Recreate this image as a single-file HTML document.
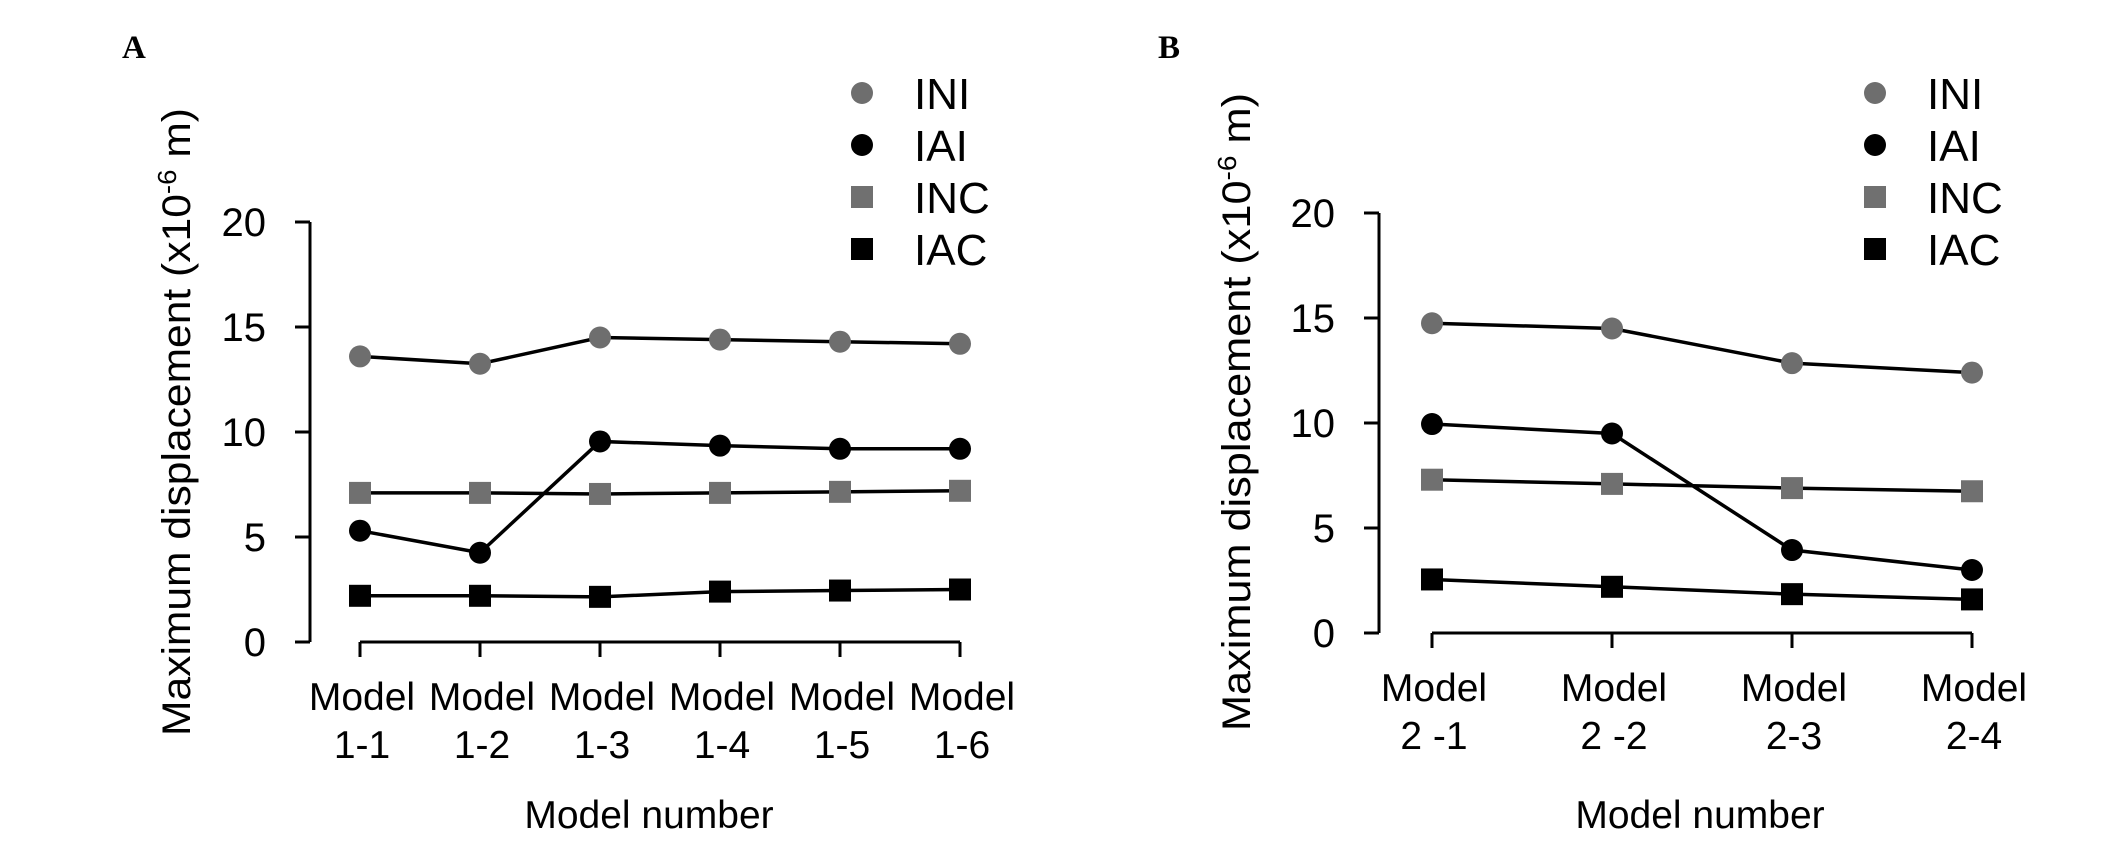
<!DOCTYPE html>
<html><head><meta charset="utf-8"><style>
html,body{margin:0;padding:0;background:#fff;}
svg{display:block;font-family:"Liberation Sans",Arial,sans-serif;}
</style></head><body>
<svg id="chart" width="2126" height="857" viewBox="0 0 2126 857" xmlns="http://www.w3.org/2000/svg">
<rect width="2126" height="857" fill="#fff"/>
</svg>
<script>
const catsA = ["1-1","1-2","1-3","1-4","1-5","1-6"];
const iniA = [13.6,13.25,14.5,14.4,14.3,14.2];
const iaiA = [5.3,4.25,9.55,9.35,9.2,9.2];
const incA = [7.1,7.1,7.05,7.1,7.15,7.2];
const iacA = [2.2,2.2,2.15,2.4,2.45,2.5];
const catsB = ["2 -1","2 -2","2-3","2-4"];
const iniB = [14.75,14.5,12.85,12.4];
const iaiB = [9.95,9.5,3.95,3.0];
const incB = [7.3,7.1,6.9,6.75];
const iacB = [2.55,2.2,1.85,1.6];
const yTicks = [0,5,10,15,20];
const legendLabels = ["INI","IAI","INC","IAC"];

const NS="http://www.w3.org/2000/svg";
const svg=document.getElementById('chart');
function mk(tag,attrs,parent){const e=document.createElementNS(NS,tag);for(const k in attrs)e.setAttribute(k,attrs[k]);(parent||svg).appendChild(e);return e;}

function panel(cfg){
  const g=mk('g',{});
  
  
  const y=v=>cfg.y0-(cfg.y0-cfg.y20)*v/20;
  const n=cfg.cats.length;
  const x=i=>cfg.x0+(cfg.x1-cfg.x0)*i/(n-1);
  const L=mk('text',{x:cfg.letterX,y:58,'font-family':'"Liberation Serif",serif','font-weight':'bold','font-size':33,fill:'#000'},g);
  L.textContent=cfg.letter;
  
  
  const ya=mk('path',{d:`M${cfg.ax},${y(20)}V${y(0)}`,stroke:'#000','stroke-width':3,fill:'none'},g);
  
  
  yTicks.forEach(t=>{
    const tk=mk('path',{d:`M${cfg.ax-15},${y(t)}H${cfg.ax}`,stroke:'#000','stroke-width':3},g);
    
    
    const tl=mk('text',{x:cfg.ax-44,y:y(t)+14,'text-anchor':'end','font-size':40,fill:'#000'},g);
    tl.textContent=t;
    
    
  });
  const xa=mk('path',{d:`M${x(0)},${y(0)}H${x(n-1)}`,stroke:'#000','stroke-width':3,fill:'none'},g);
  
  
  cfg.cats.forEach((c,i)=>{
    const tk=mk('path',{d:`M${x(i)},${y(0)}V${y(0)+15}`,stroke:'#000','stroke-width':3},g);
    
    
    const t1=mk('text',{x:x(i)+2,y:y(0)+68,'text-anchor':'middle','font-size':39,fill:'#000'},g);
    t1.textContent='Model';
    
    
    const t2=mk('text',{x:x(i)+2,y:y(0)+116,'text-anchor':'middle','font-size':39,fill:'#000'},g);
    t2.textContent=c;
    
    
  });
  const xt=mk('text',{x:cfg.xtX,y:828,'text-anchor':'middle','font-size':39,fill:'#000'},g);
  xt.textContent='Model number';
  
  
  const yt=mk('text',{transform:`translate(${cfg.ytX},${cfg.ytY}) rotate(-90)`,'text-anchor':'middle','font-size':40,fill:'#000',textLength:cfg.ytLen,lengthAdjust:'spacingAndGlyphs'},g);
  
  
  yt.innerHTML='Maximum displacement (x10<tspan dy="-14" font-size="26">-6</tspan><tspan dy="14">'+cfg.gap+'m)</tspan>';
  const series=[[cfg.ini,'circle','#6e6e6e'],[cfg.iai,'circle','#000'],[cfg.inc,'square','#707070'],[cfg.iac,'square','#000']];
  series.forEach((s,si)=>{
    const pts=s[0].map((v,i)=>`${x(i)},${y(v)}`).join(' ');
    const pl=mk('polyline',{points:pts,fill:'none',stroke:'#000','stroke-width':3.5},g);
    
    
    s[0].forEach((v,i)=>{
      let m;
      if(s[1]==='circle') m=mk('circle',{cx:x(i),cy:y(v),r:11,fill:s[2]},g);
      else m=mk('rect',{x:x(i)-11,y:y(v)-11,width:22,height:22,fill:s[2]},g);
      
      
    });
    const ly=93+52*si;
    let lm;
    if(s[1]==='circle') lm=mk('circle',{cx:cfg.legX,cy:ly,r:11,fill:s[2]},g);
    else lm=mk('rect',{x:cfg.legX-11,y:ly-11,width:22,height:22,fill:s[2]},g);
    
    
    const lt=mk('text',{x:cfg.legX+52,y:ly+16,'font-size':44,fill:'#000'},g);
    lt.textContent=legendLabels[si];
    
    
  });
}
panel({letter:'A',letterX:122,cats:catsA,ini:iniA,iai:iaiA,inc:incA,iac:iacA,ax:310,x0:360,x1:960,y20:222,y0:642,xtX:649,ytX:190,ytY:422,ytLen:628,legX:862,gap:' '});
panel({letter:'B',letterX:1158,cats:catsB,ini:iniB,iai:iaiB,inc:incB,iac:iacB,ax:1379,x0:1432,x1:1972,y20:213,y0:633,xtX:1700,ytX:1250,ytY:412,ytLen:638,legX:1875,gap:'  '});
</script>
</body></html>
